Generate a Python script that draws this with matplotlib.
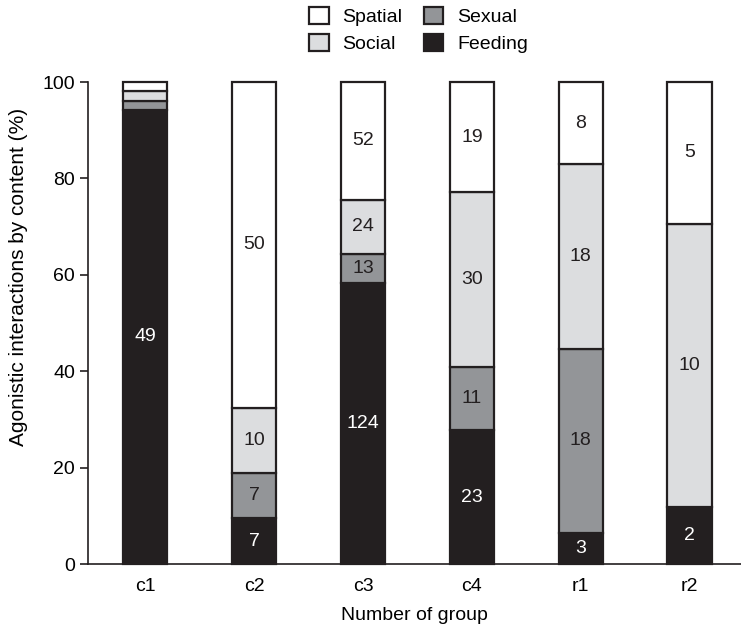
import numpy as np
import matplotlib
matplotlib.use("Agg")
import matplotlib.pyplot as plt
from matplotlib.patches import Patch

plt.rcParams['font.family'] = ['Liberation Sans', 'DejaVu Sans']

groups = ["c1", "c2", "c3", "c4", "r1", "r2"]
feeding = [49, 7, 124, 23, 3, 2]
sexual = [1, 7, 13, 11, 18, 0]
social = [1, 10, 24, 30, 18, 10]
spatial = [1, 50, 52, 19, 8, 5]
# which groups get number labels (c1 only shows feeding)
show_labels = [False, True, True, True, True, True]

categories = ["Feeding", "Sexual", "Social", "Spatial"]
colors = ["#231f20", "#939598", "#dcdddf", "#ffffff"]
text_colors = ["white", "#231f20", "#231f20", "#231f20"]

counts = np.array([feeding, sexual, social, spatial], dtype=float)
pct = counts / counts.sum(axis=0) * 100

fs = 14

fig = plt.figure(figsize=(7.41, 6.26), dpi=100)
ax = fig.add_axes([0.119, 0.099, 0.881, 0.770])

x = np.arange(len(groups))
bottom = np.zeros(len(groups))
for i, cat in enumerate(categories):
    ax.bar(x, pct[i], 0.41, bottom=bottom, color=colors[i],
           edgecolor="#231f20", linewidth=1.6, clip_on=False, zorder=3)
    for j in range(len(groups)):
        if counts[i, j] == 0:
            continue
        if show_labels[j] or i == 0:
            ax.text(x[j], bottom[j] + pct[i, j] / 2, str(int(counts[i, j])),
                    ha="center", va="center", fontsize=fs,
                    color=text_colors[i], zorder=4)
    bottom += pct[i]

ax.set_xlim(-0.523, 5.47)
ax.set_ylim(0, 100)
ax.set_yticks([0, 20, 40, 60, 80, 100])
ax.set_xticks(x)
ax.set_xticklabels(groups)
ax.tick_params(axis="x", length=0, pad=10, labelsize=fs)
ax.tick_params(axis="y", length=6, width=1.2, labelsize=fs, color="#231f20")
for s in ["top", "right"]:
    ax.spines[s].set_visible(False)
ax.spines["left"].set_linewidth(1.2)
ax.spines["bottom"].set_linewidth(1.2)
ax.spines["left"].set_color("#231f20")
ax.spines["bottom"].set_color("#231f20")
ax.set_xlabel("Number of group", fontsize=fs, labelpad=9)
ax.set_ylabel("Agonistic interactions by content (%)", fontsize=15)
ax.yaxis.set_label_coords(-0.092, 0.595)

legend_order = [3, 2, 1, 0]
handles = [Patch(facecolor=colors[k], edgecolor="#231f20", linewidth=1.6,
                 label=categories[k]) for k in legend_order]
fig.legend(handles=handles, loc="upper center", bbox_to_anchor=(0.565, 1.017),
           ncol=2, frameon=False, fontsize=fs, handlelength=1.0,
           handleheight=1.0, columnspacing=1.1, handletextpad=0.7,
           labelspacing=0.4)

fig.savefig("out.png", dpi=100)
